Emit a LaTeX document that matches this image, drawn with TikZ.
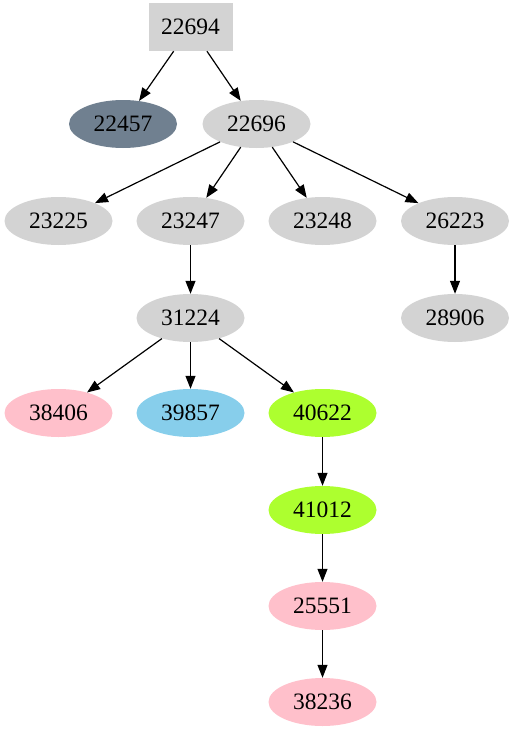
\documentclass[tikz,border=0pt]{standalone}
\usepackage{fontspec}
\setmainfont{Liberation Serif}
\usetikzlibrary{shapes.geometric,arrows.meta}
\definecolor{lgray}{HTML}{D3D3D3}
\definecolor{slate}{HTML}{708090}
\definecolor{pinkish}{HTML}{FFC0CB}
\definecolor{sky}{HTML}{87CEEB}
\definecolor{gyellow}{HTML}{ADFF2F}
\tikzset{
  vert/.style={ellipse, fill=lgray, inner sep=0pt, minimum width=108pt, minimum height=48pt,
    font=\fontsize{23.5}{28}\selectfont},
  rootbox/.style={rectangle, fill=lgray, inner sep=0pt, minimum width=84pt, minimum height=48pt,
    font=\fontsize{23.5}{28}\selectfont},
  edge/.style={-{Triangle[length=13pt,width=10pt]}, line width=1.2pt},
}
\begin{document}
\begin{tikzpicture}[x=1pt, y=-1pt]
  \useasboundingbox (0,0) rectangle (514,731);
  \node[rootbox] (n22694) at (190.5,27) {22694};
  \node[vert, fill=slate] (n22457) at (123,124) {22457};
  \node[vert] (n22696) at (256.5,124) {22696};
  \node[vert] (n23225) at (58.5,221) {23225};
  \node[vert] (n23247) at (190.5,221) {23247};
  \node[vert] (n23248) at (322.5,221) {23248};
  \node[vert] (n26223) at (455,221) {26223};
  \node[vert] (n31224) at (190.5,318) {31224};
  \node[vert] (n28906) at (455,318) {28906};
  \node[vert, fill=pinkish] (n38406) at (58.5,413) {38406};
  \node[vert, fill=sky] (n39857) at (190.5,413) {39857};
  \node[vert, fill=gyellow] (n40622) at (322.5,413) {40622};
  \node[vert, fill=gyellow] (n41012) at (322.5,510) {41012};
  \node[vert, fill=pinkish] (n25551) at (322.5,606) {25551};
  \node[vert, fill=pinkish] (n38236) at (322.5,702) {38236};
  % edges
  \draw[edge] (n22694) -- (n22457);
  \draw[edge] (n22694) -- (n22696);
  \draw[edge] (n22696) -- (n23225);
  \draw[edge] (n22696) -- (n23247);
  \draw[edge] (n22696) -- (n23248);
  \draw[edge] (n22696) -- (n26223);
  \draw[edge] (n23247) -- (n31224);
  \draw[edge] (n26223) -- (n28906);
  \draw[edge] (n31224) -- (n38406);
  \draw[edge] (n31224) -- (n39857);
  \draw[edge] (n31224) -- (n40622);
  \draw[edge] (n40622) -- (n41012);
  \draw[edge] (n41012) -- (n25551);
  \draw[edge] (n25551) -- (n38236);
\end{tikzpicture}
\end{document}
